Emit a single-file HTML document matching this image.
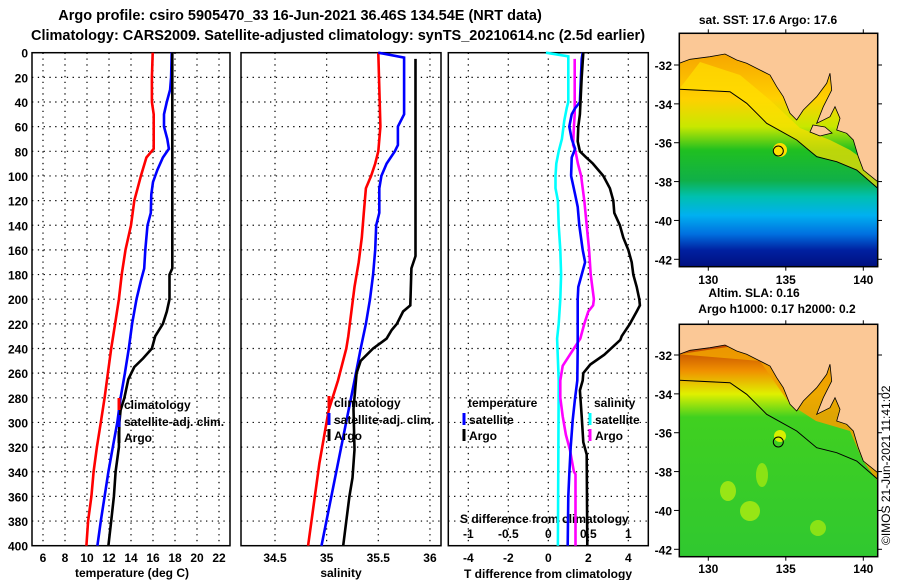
<!DOCTYPE html>
<html><head><meta charset="utf-8"><style>
html,body{margin:0;padding:0;background:#fff;}
svg{display:block;font-family:"Liberation Sans",sans-serif;font-weight:bold;}
</style></head><body>
<svg id="chart" width="900" height="580" viewBox="0 0 900 580" xmlns="http://www.w3.org/2000/svg">
<rect width="900" height="580" fill="#fff"/>
<text x="300" y="20" font-size="14.5" text-anchor="middle">Argo profile: csiro 5905470_33 16-Jun-2021 36.46S 134.54E (NRT data)</text>
<text x="338" y="40" font-size="14.5" text-anchor="middle">Climatology: CARS2009. Satellite-adjusted climatology: synTS_20210614.nc (2.5d earlier)</text>

<g id="maps">
 <g>
  <defs>
   <linearGradient id="sstg" x1="0" y1="0" x2="0" y2="1">
    <stop offset="0.1" stop-color="#f7a800"/><stop offset="0.28" stop-color="#ffd000"/>
    <stop offset="0.4" stop-color="#c8e800"/><stop offset="0.5" stop-color="#20c020"/>
    <stop offset="0.63" stop-color="#10b048"/><stop offset="0.7" stop-color="#00c0b0"/>
    <stop offset="0.78" stop-color="#00b0f0"/><stop offset="0.86" stop-color="#0070e0"/>
    <stop offset="0.93" stop-color="#0020a0"/><stop offset="1" stop-color="#001080"/>
   </linearGradient>
   <linearGradient id="slag" x1="0" y1="0" x2="0" y2="1">
    <stop offset="0.1" stop-color="#c04800"/><stop offset="0.2" stop-color="#f09000"/>
    <stop offset="0.3" stop-color="#e0f000"/><stop offset="0.4" stop-color="#40d020"/>
    <stop offset="1" stop-color="#30c830"/>
   </linearGradient>
  </defs>
  <rect x="679.3" y="33.3" width="198.4" height="233.4" fill="url(#sstg)"/>
  <path d="M679.3,89 L730,92 L766,123 L796,140 L817,156 L837,162 L857,170 L877.7,188 L877.7,170 L850,150 L830,140 L800,128 L770,100 L740,75 L700,62 Z" fill="#ffe000" opacity="0.7"/>
  <circle cx="780" cy="150" r="7" fill="#ffe000"/>
  <path d="M679.3,63.3 L690,59.3 L710,56.7 L725,54 L736.7,60 L746.7,63.3 L760,70 L770,75 L776.7,86.7 L783.3,96.7 L790,113.3 L796.7,120 L803.3,110 L816.7,96.7 L826.7,83.3 L830,73.3 L831.7,90 L823.3,106.7 L816.7,123.3 L830,116.7 L835,106.7 L840,118.3 L836.7,130 L846.7,133.3 L853.3,140 L858.3,156.7 L863.3,170 L877.7,181.7 L877.7,33.3 L679.3,33.3 Z" fill="#fbc896" stroke="#000" stroke-width="0.8"/>
  <path d="M813,125 L825,127 L832,133 L820,136 L810,132 Z" fill="#fbc896" stroke="#000" stroke-width="0.8"/>
  <polyline points="679.3,89.3 730,91.7 746.7,103.3 766.7,123.3 796.7,140 816.7,156.7 836.7,161.7 856.7,170 877.7,188.3" fill="none" stroke="#000" stroke-width="1"/>
  <circle cx="778.3" cy="151" r="5" fill="none" stroke="#000" stroke-width="1"/>
  <rect x="679.3" y="33.3" width="198.4" height="233.4" fill="none" stroke="#000" stroke-width="1.5"/>
  <text x="768" y="24" font-size="12" text-anchor="middle">sat. SST: 17.6 Argo: 17.6</text>
 </g>
 <g>
  <rect x="679.3" y="324.3" width="198.4" height="232.4" fill="url(#slag)"/>
  <g transform="translate(0,291)">
   <ellipse cx="728" cy="200" rx="8" ry="10" fill="#b0ec10" opacity="0.8"/>
   <ellipse cx="750" cy="220" rx="10" ry="10" fill="#b0ec10" opacity="0.8"/>
   <ellipse cx="818" cy="237" rx="8" ry="8" fill="#a0e810" opacity="0.8"/>
   <ellipse cx="762" cy="184" rx="6" ry="12" fill="#a0e810" opacity="0.8"/>
   <path d="M679.3,63.3 L760,70 L790,113.3 L816,130 L850,140 L863,170 L877.7,190 L877.7,181.7 L877.7,33.3 Z" fill="#f0a000" opacity="0.9"/>
   <circle cx="780" cy="145" r="6" fill="#d8f000"/>
   <path d="M679.3,63.3 L690,59.3 L710,56.7 L725,54 L736.7,60 L746.7,63.3 L760,70 L770,75 L776.7,86.7 L783.3,96.7 L790,113.3 L796.7,120 L803.3,110 L816.7,96.7 L826.7,83.3 L830,73.3 L831.7,90 L823.3,106.7 L816.7,123.3 L830,116.7 L835,106.7 L840,118.3 L836.7,130 L846.7,133.3 L853.3,140 L858.3,156.7 L863.3,170 L877.7,181.7 L877.7,33.3 L679.3,33.3 Z" fill="#fbc896" stroke="#000" stroke-width="0.8"/>
   <polyline points="679.3,89.3 730,91.7 746.7,103.3 766.7,123.3 796.7,140 816.7,156.7 836.7,161.7 856.7,170 877.7,188.3" fill="none" stroke="#000" stroke-width="1"/>
   <circle cx="778.3" cy="151" r="5" fill="none" stroke="#000" stroke-width="1"/>
  </g>
  <rect x="679.3" y="324.3" width="198.4" height="232.4" fill="none" stroke="#000" stroke-width="1.5"/>
  <text x="754" y="297" font-size="12" text-anchor="middle">Altim. SLA: 0.16</text>
  <text x="777" y="313" font-size="12" text-anchor="middle">Argo h1000: 0.17 h2000: 0.2</text>
  <text transform="translate(890,545) rotate(-90)" font-size="12" font-weight="normal">©IMOS 21-Jun-2021 11:41:02</text>
 </g>
</g>
<g id="plots"></g>
</svg>
<script>
// ---- Data ----
const tClimDepth=[0,20,40,50,78,85,100,110,120,140,160,180,200,220,240,260,280,300,320,340,360,380,400];
const tClim=[15.97,15.9,15.9,16.06,16.06,15.4,14.9,14.6,14.3,14.0,13.5,13.15,12.9,12.55,12.2,11.9,11.6,11.25,10.9,10.6,10.4,10.1,9.95];
const tSatDepth=[0,20,30,40,50,60,70,78,85,95,105,115,130,140,160,175,185,200,220,240,260,280,300,320,340,360,380,400];
const tSat=[17.7,17.65,17.55,17.25,17.0,17.0,17.3,17.45,16.9,16.4,16.0,15.85,15.8,15.5,15.3,15.2,14.9,14.5,14.1,13.8,13.45,13.05,12.75,12.35,11.95,11.6,11.25,10.95];
const tArgoDepth=[0,175,180,200,210,220,230,240,248,255,265,280,290,300,320,340,360,380,400];
const tArgo=[17.75,17.75,17.5,17.5,17.25,16.9,16.2,15.9,15.1,14.3,13.75,13.4,13.05,12.95,12.9,12.6,12.45,12.2,11.95];
const sClimDepth=[0,60,80,90,100,110,130,150,170,190,210,230,240,266,290,333,400];
const sClim=[35.5,35.52,35.5,35.47,35.43,35.38,35.36,35.34,35.31,35.27,35.24,35.21,35.19,35.11,35.02,34.93,34.82];
const sSatDepth=[0,4,50,60,75,80,90,100,110,130,140,160,180,200,220,240,266,333,400];
const sSat=[35.5,35.75,35.75,35.69,35.69,35.66,35.58,35.53,35.51,35.51,35.48,35.47,35.45,35.42,35.38,35.33,35.27,35.11,34.95];
const sArgoDepth=[5,165,175,205,210,220,225,232,240,250,260,289,322,345,360,380,400];
const sArgo=[35.86,35.86,35.82,35.81,35.74,35.68,35.63,35.58,35.45,35.33,35.29,35.26,35.27,35.25,35.22,35.19,35.16];
const dTSatDepth=[0,5,40,45,50,60,70,78,85,100,115,125,140,160,170,180,190,200,240,266,280,298,320,342,360,400];
const dTSat=[1.72,1.67,1.58,1.34,1.17,1.05,1.17,1.34,1.17,1.14,1.34,1.47,1.55,1.72,1.84,1.67,1.5,1.47,1.47,1.45,1.34,1.22,1.12,1.05,1.0,0.97];
const dTArgoDepth=[0,20,50,60,72,80,85,90,100,110,120,130,140,150,160,170,180,190,200,205,210,220,230,233,245,253,260,266,274,295,316,326,400];
const dTArgo=[1.75,1.67,1.58,1.5,1.47,1.58,1.9,2.23,2.75,3.08,3.25,3.3,3.58,3.75,4.0,4.17,4.25,4.42,4.55,4.58,4.42,4.08,3.67,3.6,2.8,2.1,1.75,1.72,1.58,1.67,1.75,1.92,1.95];
const dSSatDepth=[0,3,40,45,55,70,80,90,100,110,120,140,160,180,200,220,232,266,400];
const dSSat=[-0.03,0.25,0.25,0.23,0.2,0.17,0.13,0.1,0.09,0.09,0.12,0.13,0.15,0.16,0.15,0.13,0.11,0.13,0.12];
const dSArgoDepth=[5,50,60,75,80,90,100,120,140,160,180,200,205,210,220,232,245,254,266,280,295,310,322,340,342,400];
const dSArgo=[0.33,0.33,0.32,0.31,0.34,0.37,0.41,0.45,0.48,0.51,0.53,0.57,0.56,0.5,0.45,0.4,0.27,0.18,0.15,0.15,0.18,0.22,0.27,0.32,0.34,0.34];
const depthTicks=[0,20,40,60,80,100,120,140,160,180,200,220,240,260,280,300,320,340,360,380,400];
const tempTicks=[6,8,10,12,14,16,18,20,22];
const salTicks=[34.5,35,35.5,36];
const salTickLabels=["34.5","35","35.5","36"];
const dTTicks=[-4,-2,0,2,4];
const dSTicks=[-1,-0.5,0,0.5,1];
const latTicks=[-32,-34,-36,-38,-40,-42];
const lonTicks=[130,135,140];

// ---- Axes ----
const NS="http://www.w3.org/2000/svg";
const yD=d=>52.7+d*1.2325;
const xT=t=>32+(t-5)*11;
const xS=s=>275+(s-34.5)*103.3;
const xdT=v=>548.3+v*20;
const xdS=v=>548.3+v*80;
const xLon=l=>708.3+(l-130)*15.5;
const yLat1=l=>65+(-32-l)*19.43;
const yLat2=l=>355+(-32-l)*19.43;
const root=document.getElementById('plots');
function mk(tag,attrs,parent){const e=document.createElementNS(NS,tag);for(const k in attrs)e.setAttribute(k,attrs[k]);(parent||root).appendChild(e);return e;}
function txt(x,y,s,anchor,size,parent){const e=mk('text',{x:x,y:y,'text-anchor':anchor||'middle','font-size':size||12},parent);e.textContent=s;return e;}

function panel(name,x0,x1,xticks,xf){
  const g=mk('g',{});
  
  
  depthTicks.forEach(d=>{if(d>0&&d<400)mk('line',{x1:x0,x2:x1,y1:yD(d),y2:yD(d),stroke:'#000','stroke-width':1.2,'stroke-dasharray':'1.3,4.5'},g);});
  xticks.forEach(v=>mk('line',{x1:xf(v),x2:xf(v),y1:yD(0),y2:yD(400),stroke:'#000','stroke-width':1.2,'stroke-dasharray':'1.3,4.5'},g));
  mk('rect',{x:x0,y:yD(0),width:x1-x0,height:yD(400)-yD(0),fill:'none',stroke:'#000','stroke-width':1.5},g);
  return g;
}
function series(g,name,depths,vals,xf,color){
  const pts=depths.map((d,i)=>xf(vals[i]).toFixed(1)+','+yD(d).toFixed(1)).join(' ');
  const p=mk('polyline',{points:pts,fill:'none',stroke:color,'stroke-width':2.6,'stroke-linejoin':'miter'},g);
  
  
}
function legendEntry(g,x,y,color,label,name){
  const e=mk('g',{},g);
  
  
  if(color)mk('line',{x1:x,x2:x,y1:y-11,y2:y+1,stroke:color,'stroke-width':3},e);
  txt(x+5,y,label,'start',12,e);
}

// Panel 1: temperature
const g1=panel('temperature-panel',32,230,tempTicks,xT);
depthTicks.forEach(d=>{const t=txt(28,yD(d)+5,String(d),'end',12,g1);});
tempTicks.forEach(v=>txt(xT(v),562,String(v),'middle',12,g1));
const xl1=txt(132,577,'temperature (deg C)','middle',12,g1);


series(g1,'temp-climatology-line',tClimDepth,tClim,xT,'#ff0000');
series(g1,'temp-satellite-line',tSatDepth,tSat,xT,'#0000ff');
series(g1,'temp-argo-line',tArgoDepth,tArgo,xT,'#000');
legendEntry(g1,119,409,'#ff0000','climatology','legend-climatology');
legendEntry(g1,119,426,'#0000ff','satellite-adj. clim.','legend-satellite');
legendEntry(g1,119,442,'#000','Argo','legend-argo');

// Panel 2: salinity
const g2=panel('salinity-panel',241,441,salTicks,xS);
salTicks.forEach((v,i)=>txt(xS(v),562,salTickLabels[i],'middle',12,g2));
const xl2=txt(341,577,'salinity','middle',12,g2);


series(g2,'sal-climatology-line',sClimDepth,sClim,xS,'#ff0000');
series(g2,'sal-satellite-line',sSatDepth,sSat,xS,'#0000ff');
series(g2,'sal-argo-line',sArgoDepth,sArgo,xS,'#000');
legendEntry(g2,329,407,'#ff0000','climatology','sal-legend-climatology');
legendEntry(g2,329,424,'#0000ff','satellite-adj. clim.','sal-legend-satellite');
legendEntry(g2,329,440,'#000','Argo','sal-legend-argo');

// Panel 3: differences
const g3=panel('difference-panel',448.3,648.3,dTTicks,xdT);
dTTicks.forEach(v=>txt(xdT(v),562,String(v),'middle',12,g3));
dSTicks.forEach(v=>txt(xdS(v),538,String(v),'middle',12,g3));
const xl3=txt(548,578,'T difference from climatology','middle',12,g3);


const sl3=txt(460,523,'S difference from climatology','start',12,g3);


series(g3,'dsal-satellite-line',dSSatDepth,dSSat,xdS,'#00ffff');
series(g3,'dsal-argo-line',dSArgoDepth,dSArgo,xdS,'#ff00ff');
series(g3,'dtemp-satellite-line',dTSatDepth,dTSat,xdT,'#0000ff');
series(g3,'dtemp-argo-line',dTArgoDepth,dTArgo,xdT,'#000');
legendEntry(g3,463,407,null,'temperature','legend-temperature-header');
legendEntry(g3,464,424,'#0000ff','satellite','legend-dtemp-satellite');
legendEntry(g3,464,440,'#000','Argo','legend-dtemp-argo');
legendEntry(g3,589,407,null,'salinity','legend-salinity-header');
legendEntry(g3,590,424,'#00ffff','satellite','legend-dsal-satellite');
legendEntry(g3,590,440,'#ff00ff','Argo','legend-dsal-argo');

// Map axes
const gm=mk('g',{});


[[yLat1,33.3,266.7,284],[yLat2,324.3,556.7,573]].forEach(([yf,top,bot,ly])=>{
  latTicks.forEach(l=>{const y=yf(l);mk('line',{x1:674,x2:679,y1:y,y2:y,stroke:'#000'},gm);mk('line',{x1:877.7,x2:882,y1:y,y2:y,stroke:'#000'},gm);txt(672,y+5,String(l),'end',12,gm);});
  lonTicks.forEach(l=>{const x=xLon(l);mk('line',{x1:x,x2:x,y1:top-4,y2:top,stroke:'#000'},gm);mk('line',{x1:x,x2:x,y1:bot,y2:bot+4,stroke:'#000'},gm);txt(x,ly,String(l),'middle',12,gm);});
});
</script>
</body></html>
